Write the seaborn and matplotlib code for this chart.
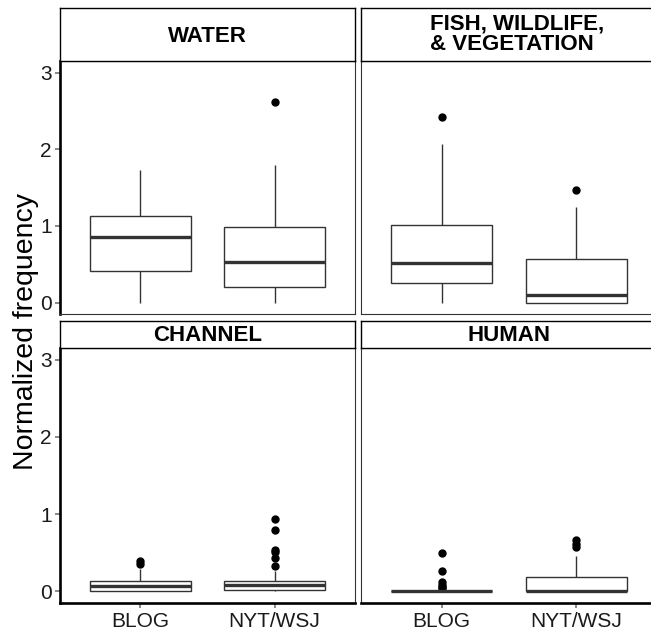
import numpy as np
import pandas as pd
import matplotlib
matplotlib.use("Agg")
import matplotlib.pyplot as plt
import seaborn as sns

# ---------------- data ----------------
sources = ["BLOG", "NYT/WSJ"]
facets = ["WATER", "FISH, WILDLIFE,\n& VEGETATION", "CHANNEL", "HUMAN"]

water_blog = [0.0, 0.41, 0.855, 1.13, 1.73]
water_nyt = [0.0, 0.10, 0.20, 0.35, 0.53, 0.75, 0.98, 1.79, 2.61]
fish_blog = [0.0, 0.12, 0.25, 0.38, 0.51, 0.75, 1.01, 2.07, 2.42]
fish_nyt = [0.0, 0.0, 0.0, 0.05, 0.10, 0.30, 0.57, 1.24, 1.47]
channel_blog = [0.0, 0.0, 0.0, 0.0, 0.03, 0.05, 0.07, 0.09, 0.12, 0.14,
                0.29, 0.36, 0.40]
channel_nyt = [0.0, 0.0, 0.0, 0.01, 0.01, 0.02, 0.02, 0.02,
               0.03, 0.04, 0.05, 0.06, 0.07, 0.07, 0.08,
               0.09, 0.10, 0.11, 0.12, 0.13, 0.13, 0.14,
               0.26, 0.33, 0.43, 0.51, 0.54, 0.79, 0.94]
human_blog = [0.0] * 19 + [0.04, 0.06, 0.08, 0.12, 0.27, 0.50]
human_nyt = [0.0] * 9 + [0.05, 0.10, 0.15, 0.19, 0.46, 0.57, 0.62, 0.66]

groups = {
    facets[0]: (water_blog, water_nyt),
    facets[1]: (fish_blog, fish_nyt),
    facets[2]: (channel_blog, channel_nyt),
    facets[3]: (human_blog, human_nyt),
}
y_ticks = [0, 1, 2, 3]

rows = []
for f, (b, n) in groups.items():
    rows += [(f, sources[0], v) for v in b]
    rows += [(f, sources[1], v) for v in n]
df = pd.DataFrame(rows, columns=["facet", "source", "value"])

# ---------------- styling ----------------
sns.set_theme(style="white")
plt.rcParams["font.family"] = ["Liberation Sans", "DejaVu Sans"]

W, H = 651, 636
fig = plt.figure(figsize=(W / 100, H / 100), dpi=100)
fig.patch.set_facecolor("white")


def rect(x0, y0, x1, y1):
    return [x0 / W, 1 - y1 / H, (x1 - x0) / W, (y1 - y0) / H]


panel_px = {
    facets[0]: (60, 61, 355, 314),
    facets[1]: (361, 61, 657, 314),
    facets[2]: (60, 348, 355, 603),
    facets[3]: (361, 348, 657, 603),
}
strip_px = {
    facets[0]: (60, 8, 355, 61),
    facets[1]: (361, 8, 657, 61),
    facets[2]: (60, 321, 355, 348),
    facets[3]: (361, 321, 657, 348),
}

for i, f in enumerate(facets):
    ax = fig.add_axes(rect(*panel_px[f]))
    sub = df[df["facet"] == f]
    sns.boxplot(data=sub, x="source", y="value", order=sources, ax=ax,
                width=0.75, color="white", linecolor="#333333", linewidth=1.0,
                saturation=1, showcaps=False, fliersize=5,
                medianprops=dict(linewidth=2.4, color="#333333"),
                flierprops=dict(marker="o", markerfacecolor="black",
                                markeredgecolor="black"))
    ax.set_xlim(-0.6, 1.6)
    ax.set_ylim(-0.15, 3.15)
    ax.set_xlabel("")
    ax.set_ylabel("")
    ax.set_facecolor("white")
    for s in ax.spines.values():
        s.set_visible(True)
        s.set_color("#333333")
        s.set_linewidth(0.8)
    left = i % 2 == 0
    bottom = i >= 2
    ax.set_yticks(y_ticks)
    if left:
        ax.spines["left"].set_color("black")
        ax.spines["left"].set_linewidth(1.9)
        ax.tick_params(axis="y", length=3.5, width=1.3, color="#7f7f7f",
                       labelsize=15, labelcolor="#1a1a1a", pad=2.5, left=True)
    else:
        ax.tick_params(axis="y", left=False, labelleft=False)
    if bottom:
        ax.spines["bottom"].set_color("black")
        ax.spines["bottom"].set_linewidth(1.9)
        ax.tick_params(axis="x", length=3.5, width=1.3, color="#7f7f7f",
                       labelsize=15, labelcolor="#1a1a1a", pad=3, bottom=True)
    else:
        ax.tick_params(axis="x", bottom=False, labelbottom=False)

    sa = fig.add_axes(rect(*strip_px[f]))
    sa.set_xticks([])
    sa.set_yticks([])
    sa.set_facecolor("white")
    for s in sa.spines.values():
        s.set_visible(True)
        s.set_color("black")
        s.set_linewidth(1.0)
    x0, y0, x1, y1 = strip_px[f]
    if i == 1:
        cx = (517 - x0) / (x1 - x0)
        sa.text(cx, 0.5, f, ha="center", va="center", multialignment="left",
                fontsize=16, fontweight="bold", color="black",
                transform=sa.transAxes, linespacing=0.95)
    else:
        sa.text(0.5, 0.47, f, ha="center", va="center", fontsize=16,
                fontweight="bold", color="black", transform=sa.transAxes)

fig.text(26 / W, 1 - 332 / H, "Normalized frequency", rotation=90,
         ha="center", va="center", fontsize=20.5, color="black")

fig.savefig("out.png", dpi=100)
